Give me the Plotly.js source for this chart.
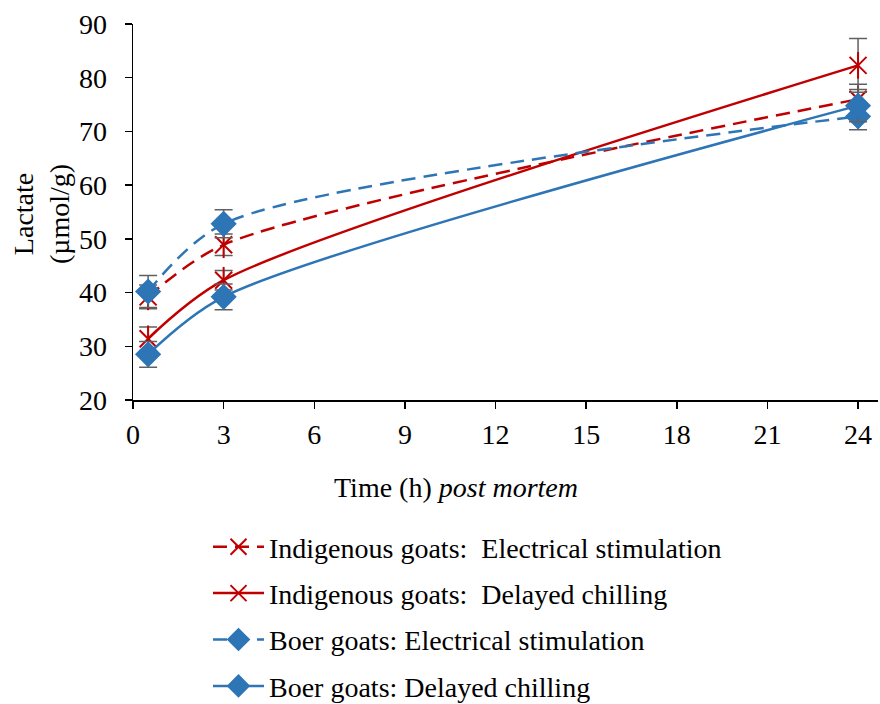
<!DOCTYPE html>
<html>
<head>
<meta charset="utf-8">
<script src="https://cdn.plot.ly/plotly-3.0.1.min.js"></script>
<style>html,body{margin:0;padding:0;background:#fff;}#chart{width:880px;height:704px;}</style>
</head>
<body>
<div id="chart"></div>
<script>
const hours = [0.5, 3, 24];
const xTicks = [0, 3, 6, 9, 12, 15, 18, 21, 24];
const seriesNames = [
  "Indigenous goats:  Electrical stimulation",
  "Indigenous goats:  Delayed chilling",
  "Boer goats: Electrical stimulation",
  "Boer goats: Delayed chilling"
];
const indigenousES = [39.2, 48.9, 76.0];
const indigenousDC = [31.4, 42.3, 82.3];
const boerES = [40.2, 52.8, 72.8];
const boerDC = [28.5, 39.2, 74.8];
const errIndigenousES = [2.2, 2.0, 2.8];
const errIndigenousDC = [2.2, 1.8, 5.0];
const errBoerES = [3.0, 2.6, 2.5];
const errBoerDC = [2.4, 2.4, 3.0];

const RED = "#C00000", BLUE = "#2E75B6", ERR = "#606060";
const serif = "Liberation Serif, Times New Roman, serif";
const FS = 28;

// pixel helpers for plot-area placement (plot spans x 133..878, y 24..400)
const px = x => (x - 133) / 745;
const py = y => (400 - y) / 376;

function err(a){ return {type:"data", array:a, visible:true, color:ERR, thickness:1.5, width:9}; }

const defs = [
  {y: indigenousES, e: errIndigenousES, c: RED, dash: "14px,8px", sym: "x-thin-open", n: seriesNames[0], star: true},
  {y: indigenousDC, e: errIndigenousDC, c: RED, dash: "solid", sym: "x-thin-open", n: seriesNames[1], star: true},
  {y: boerES, e: errBoerES, c: BLUE, dash: "14px,8px", sym: "diamond", n: seriesNames[2], star: false},
  {y: boerDC, e: errBoerDC, c: BLUE, dash: "solid", sym: "diamond", n: seriesNames[3], star: false}
];

const traces = [];
defs.forEach((d, i) => {
  traces.push({
    x: hours, y: d.y, type: "scatter", mode: "lines+markers", name: d.n,
    legendgroup: "g" + i,
    line: {color: d.c, width: 2.5, dash: d.dash, shape: "spline", smoothing: 0.8},
    marker: {symbol: d.sym, size: d.star ? 17 : 18, color: d.c, line: {color: d.c, width: 2}},
    error_y: err(d.e)
  });
  if (d.star) {
    traces.push({
      x: hours, y: d.y, type: "scatter", mode: "markers", showlegend: false,
      legendgroup: "g" + i, hoverinfo: "skip",
      marker: {symbol: "line-ns-open", size: 19, color: d.c, line: {color: d.c, width: 2}}
    });
  }
});

const layout = {
  width: 880, height: 704,
  margin: {l: 133, r: 2, t: 24, b: 304, autoexpand: false},
  paper_bgcolor: "#fff", plot_bgcolor: "#fff",
  font: {family: serif, size: FS, color: "#000"},
  showlegend: true,
  xaxis: {
    range: [0, 24.66], tickvals: xTicks, ticktext: xTicks.map(String),
    showgrid: false, zeroline: false, showline: true, linecolor: "#000", linewidth: 1.5,
    ticks: "outside", ticklen: 7, tickwidth: 1.5, tickcolor: "#000",
    tickfont: {family: serif, size: FS}, ticklabelstandoff: 2
  },
  yaxis: {
    range: [20, 90], dtick: 10, tick0: 20,
    showgrid: false, zeroline: false, showline: true, linecolor: "#000", linewidth: 1.5,
    ticks: "outside", ticklen: 7, tickwidth: 1.5, tickcolor: "#000",
    tickfont: {family: serif, size: FS}, ticklabelstandoff: 12
  },
  annotations: [
    {text: "Time (h) <i>post mortem</i>", xref: "paper", yref: "paper", x: px(456), y: py(487),
     xanchor: "center", yanchor: "middle", showarrow: false, font: {family: serif, size: FS}},
    {text: "Lactate<br>(µmol/g)", xref: "paper", yref: "paper", x: px(42), y: py(214),
     xanchor: "center", yanchor: "middle", showarrow: false, textangle: -90, font: {family: serif, size: FS}}
  ],
  legend: {
    xref: "paper", yref: "paper", x: px(208), y: py(522), xanchor: "left", yanchor: "top",
    font: {family: serif, size: FS}, tracegroupgap: 7, itemwidth: 51,
    bgcolor: "rgba(0,0,0,0)"
  }
};

Plotly.newPlot("chart", traces, layout, {staticPlot: true, displayModeBar: false});
</script>
</body>
</html>
